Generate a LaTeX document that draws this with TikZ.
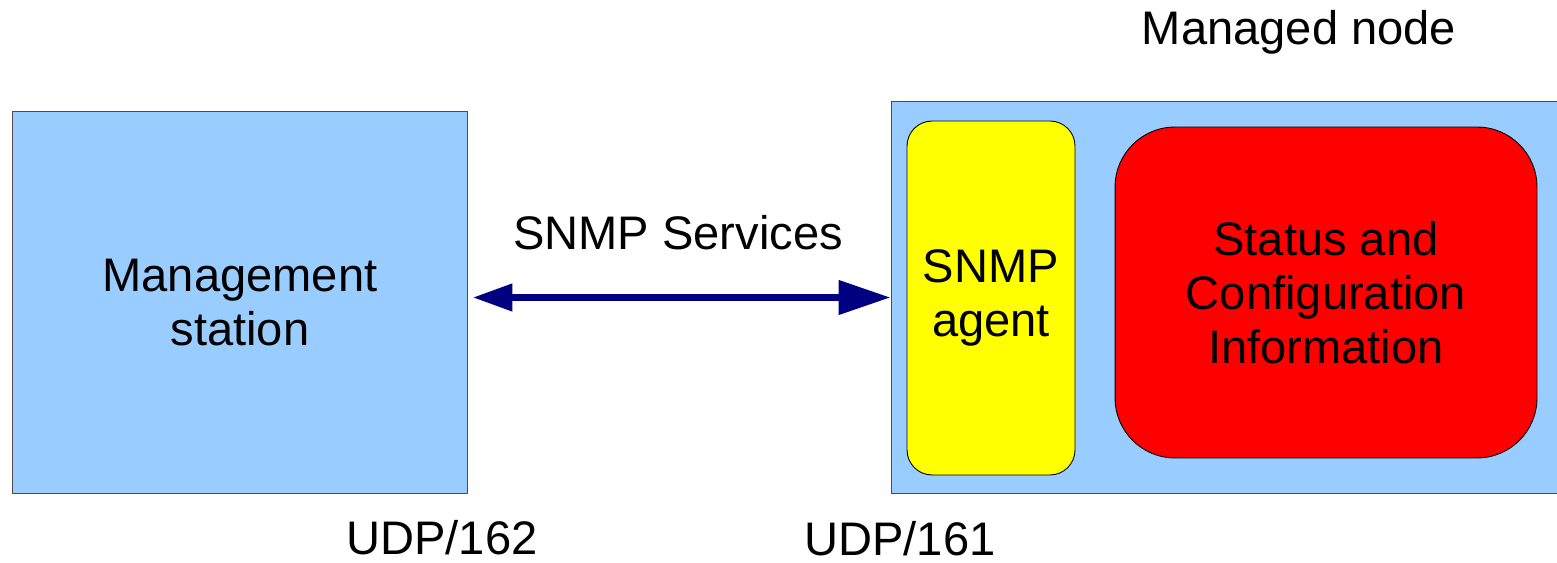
\documentclass[tikz,border=0pt]{standalone}
\usepackage{fontspec}
\setmainfont{Liberation Sans}
\usetikzlibrary{arrows.meta,positioning}
\definecolor{boxblue}{HTML}{99CCFF}
\definecolor{arrowblue}{HTML}{000080}
\definecolor{agentyellow}{HTML}{FFFF00}
\definecolor{infored}{HTML}{FF0000}

\begin{document}
\begin{tikzpicture}[
  x=0.02cm, y=-0.02cm,
  >=Stealth,
  box/.style={draw=black!70,line width=0.6pt,fill=boxblue,align=center,
              font=\fontsize{26.8}{30.6}\selectfont},
  rbox/.style={draw=black,line width=0.5pt,align=center,
               font=\fontsize{26.8}{30.6}\selectfont},
  lbl/.style={font=\fontsize{26.8}{30.6}\selectfont,inner sep=0pt},
  arr/.style={{Triangle[length=0.8cm,width=0.52cm]}-{Triangle[length=1.04cm,width=0.66cm]},
              line width=0.15cm,draw=arrowblue}
]
\clip (0,0) rectangle (1557,563);
\node[box,minimum width=9.12cm,minimum height=7.66cm] (ms) at (240,302.5) {Management\\station};
\node[box,minimum width=14.18cm,minimum height=7.86cm] (mn) at (1245.5,297.5) {};
\node[rbox,fill=agentyellow,rounded corners=0.5cm,minimum width=3.36cm,minimum height=7.08cm] (ag) at (991,298) {SNMP\\agent};
\node[rbox,fill=infored,rounded corners=1.2cm,minimum width=8.44cm,minimum height=6.62cm] (info) at (1326,292.5) {Status and\\Configuration\\Information};
\node[lbl] (mnl) at (1299,32) {Managed node};
\node[lbl] (svc) at (678,233) {SNMP Services};
\node[lbl] (p162) at (442,538) {UDP/162};
\node[lbl] (p161) at (900,539) {UDP/161};
\draw[arr] ([shift={(4,-5)}]ms.east) -- (mn.west);
\end{tikzpicture}
\end{document}
